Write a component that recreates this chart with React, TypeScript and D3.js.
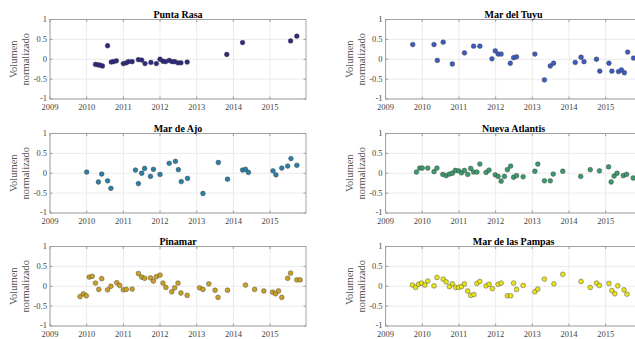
import * as d3 from "d3";

type Pt = [number, number];

const years = [2009, 2010, 2011, 2012, 2013, 2014, 2015];
const yTicks = [1, 0.5, 0, -0.5, -1];

const puntaRasa: Pt[] = [
  [2010.24, -0.13], [2010.31, -0.14], [2010.36, -0.15], [2010.43, -0.17], [2010.57, 0.34],
  [2010.67, -0.07], [2010.73, -0.06], [2010.81, -0.04], [2011.0, -0.11], [2011.08, -0.09],
  [2011.14, -0.06], [2011.24, -0.06], [2011.41, -0.01], [2011.5, -0.02], [2011.59, -0.11],
  [2011.75, -0.08], [2011.9, -0.11], [2012.0, 0.0], [2012.08, -0.05], [2012.15, -0.06],
  [2012.25, -0.03], [2012.33, -0.06], [2012.4, -0.06], [2012.49, -0.09], [2012.57, -0.09],
  [2012.74, -0.07], [2013.82, 0.12], [2014.25, 0.42], [2015.56, 0.46], [2015.73, 0.58],
];

const marDelTuyu: Pt[] = [
  [2009.74, 0.37], [2010.32, 0.37], [2010.41, -0.03], [2010.57, 0.43], [2010.82, -0.12],
  [2011.15, 0.16], [2011.4, 0.33], [2011.57, 0.33], [2011.9, 0.01], [2011.99, 0.21],
  [2012.07, 0.13], [2012.15, 0.13], [2012.4, -0.1], [2012.49, 0.04], [2012.57, 0.06],
  [2013.07, 0.13], [2013.33, -0.52], [2013.49, -0.17], [2013.58, -0.1], [2014.17, -0.08],
  [2014.33, 0.05], [2014.41, -0.06], [2014.75, 0.0], [2014.84, -0.3], [2015.09, -0.1],
  [2015.17, -0.3], [2015.35, -0.31], [2015.43, -0.27], [2015.51, -0.34], [2015.6, 0.18],
  [2015.76, 0.03],
];

const marDeAjo: Pt[] = [
  [2010.0, 0.03], [2010.32, -0.22], [2010.41, -0.02], [2010.57, -0.19], [2010.66, -0.38],
  [2011.33, 0.08], [2011.41, -0.26], [2011.5, 0.0], [2011.58, 0.12], [2011.74, -0.08],
  [2011.82, 0.1], [2012.0, -0.03], [2012.25, 0.25], [2012.42, 0.3], [2012.5, 0.09],
  [2012.58, -0.21], [2012.75, -0.13], [2013.17, -0.51], [2013.59, 0.27], [2013.84, -0.15],
  [2014.25, 0.08], [2014.33, 0.1], [2014.41, 0.02], [2015.08, 0.06], [2015.16, -0.04],
  [2015.32, 0.13], [2015.48, 0.18], [2015.57, 0.37], [2015.73, 0.2],
];

const nuevaAtlantis: Pt[] = [
  [2009.84, 0.03], [2009.93, 0.13], [2010.0, 0.13], [2010.15, 0.13], [2010.32, 0.04],
  [2010.4, 0.13], [2010.56, -0.03], [2010.65, -0.06], [2010.74, -0.02], [2010.82, 0.0],
  [2010.9, 0.07], [2010.99, 0.06], [2011.07, 0.01], [2011.15, 0.07], [2011.24, -0.03],
  [2011.32, 0.12], [2011.4, 0.03], [2011.49, 0.03], [2011.57, 0.23], [2011.74, 0.02],
  [2011.82, 0.08], [2011.99, -0.04], [2012.07, -0.08], [2012.15, -0.2], [2012.24, -0.08],
  [2012.32, 0.09], [2012.41, 0.18], [2012.49, -0.1], [2012.57, -0.06], [2012.75, -0.09],
  [2013.07, 0.05], [2013.15, 0.23], [2013.33, -0.19], [2013.49, -0.19], [2013.57, -0.02],
  [2013.83, 0.05], [2014.32, -0.08], [2014.58, 0.09], [2014.83, 0.06], [2015.08, 0.16],
  [2015.15, -0.22], [2015.23, -0.07], [2015.31, 0.0], [2015.48, -0.06], [2015.57, -0.03],
  [2015.75, -0.12],
];

const pinamar: Pt[] = [
  [2009.82, -0.26], [2009.91, -0.19], [2009.99, -0.24], [2010.07, 0.23], [2010.15, 0.25],
  [2010.24, 0.08], [2010.33, -0.08], [2010.41, 0.19], [2010.57, -0.09], [2010.66, 0.0],
  [2010.82, 0.09], [2010.9, 0.02], [2011.0, -0.09], [2011.08, -0.08], [2011.24, -0.07],
  [2011.41, 0.32], [2011.5, 0.23], [2011.58, 0.2], [2011.74, 0.21], [2011.82, 0.13],
  [2011.9, 0.24], [2012.0, 0.28], [2012.08, 0.08], [2012.16, -0.03], [2012.32, -0.14],
  [2012.4, -0.04], [2012.49, 0.08], [2012.57, -0.17], [2012.74, -0.23], [2013.08, -0.04],
  [2013.17, -0.08], [2013.33, 0.06], [2013.5, -0.1], [2013.58, -0.28], [2013.84, -0.1],
  [2014.33, 0.03], [2014.58, -0.08], [2014.83, -0.12], [2015.07, -0.15], [2015.15, -0.19],
  [2015.23, -0.12], [2015.32, -0.28], [2015.48, 0.2], [2015.56, 0.33], [2015.73, 0.16],
  [2015.82, 0.16],
];

const marDeLasPampas: Pt[] = [
  [2009.73, 0.03], [2009.82, -0.03], [2009.9, 0.05], [2009.98, 0.08], [2010.07, 0.03],
  [2010.15, 0.13], [2010.32, 0.01], [2010.4, 0.22], [2010.57, 0.18], [2010.65, 0.11],
  [2010.74, -0.01], [2010.82, 0.06], [2010.91, -0.03], [2010.99, -0.03], [2011.07, -0.01],
  [2011.15, 0.06], [2011.24, -0.12], [2011.32, -0.23], [2011.41, -0.21], [2011.49, 0.07],
  [2011.57, 0.12], [2011.74, 0.01], [2011.82, 0.05], [2011.91, -0.06], [2012.07, 0.05],
  [2012.15, 0.08], [2012.32, -0.24], [2012.41, -0.24], [2012.49, 0.08], [2012.57, -0.08],
  [2012.75, 0.02], [2013.07, -0.14], [2013.15, -0.07], [2013.33, 0.18], [2013.59, 0.06],
  [2013.83, 0.3], [2014.33, 0.12], [2014.58, -0.03], [2014.75, 0.08], [2014.83, 0.02],
  [2015.09, 0.07], [2015.17, -0.11], [2015.25, -0.19], [2015.33, 0.01], [2015.5, -0.09],
  [2015.58, -0.2],
];

const panels = [
  { title: "Punta Rasa", data: puntaRasa, color: "#2f2a80", col: 0, row: 0 },
  { title: "Mar del Tuyu", data: marDelTuyu, color: "#3d5cc2", col: 1, row: 0 },
  { title: "Mar de Ajo", data: marDeAjo, color: "#2b7fa6", col: 0, row: 1 },
  { title: "Nueva Atlantis", data: nuevaAtlantis, color: "#3b9a6c", col: 1, row: 1 },
  { title: "Pinamar", data: pinamar, color: "#c9a125", col: 0, row: 2 },
  { title: "Mar de las Pampas", data: marDeLasPampas, color: "#e8e21c", col: 1, row: 2 },
];

const colX = [50, 385.6];
const rowY = [19.5, 133.5, 246.5];
const plotW = 256;
const plotH = 79.5;
const font = "'Liberation Serif', 'Times New Roman', serif";

function Panel({ title, data, color, left, top }: any) {
  const x = d3.scaleLinear().domain([2009, 2015.98]).range([left, left + plotW]);
  const y = d3.scaleLinear().domain([-1, 1]).range([top + plotH, top]);
  const right = left + plotW;
  const bottom = top + plotH;
  const midY = (top + bottom) / 2;
  return (
    <g>
      <rect x={left} y={top} width={plotW} height={plotH} fill="#fff" />
      {years.map((yr) => (
        <line key={"gx" + yr} x1={x(yr)} x2={x(yr)} y1={top} y2={bottom} stroke="#e6e6e6" strokeWidth={0.8} />
      ))}
      {yTicks.map((t) => (
        <line key={"gy" + t} x1={left} x2={right} y1={y(t)} y2={y(t)} stroke="#e6e6e6" strokeWidth={0.8} />
      ))}
      {years.map((yr) => (
        <g key={"tx" + yr}>
          <line x1={x(yr)} x2={x(yr)} y1={bottom} y2={bottom - 2.5} stroke="#888" strokeWidth={0.8} />
          <line x1={x(yr)} x2={x(yr)} y1={top} y2={top + 2.5} stroke="#888" strokeWidth={0.8} />
          <text x={x(yr)} y={bottom + 10.5} textAnchor="middle" fontSize={8.5} fill="#444" fontFamily={font}>
            {yr}
          </text>
        </g>
      ))}
      {yTicks.map((t) => (
        <g key={"ty" + t}>
          <line x1={left} x2={left + 2.5} y1={y(t)} y2={y(t)} stroke="#888" strokeWidth={0.8} />
          <line x1={right} x2={right - 2.5} y1={y(t)} y2={y(t)} stroke="#888" strokeWidth={0.8} />
          <text x={left - 3} y={y(t) + (t === -1 ? 1.5 : 2.5)} textAnchor="end" fontSize={8.5} fill="#444" fontFamily={font}>
            {t}
          </text>
        </g>
      ))}
      <rect x={left} y={top} width={plotW} height={plotH} fill="none" stroke="#999" strokeWidth={0.9} />
      {data.map((d: Pt, i: number) => (
        <circle key={i} cx={x(d[0])} cy={y(d[1])} r={2.4} fill={color} stroke="#333" strokeWidth={0.4} />
      ))}
      <text x={(left + right) / 2} y={top - 2} textAnchor="middle" fontSize={10} fontWeight="bold" fill="#000" fontFamily={font}>
        {title}
      </text>
      <text transform={`translate(${left - 33},${midY}) rotate(-90)`} textAnchor="middle" fontSize={10.5} fill="#555" fontFamily={font}>
        Volumen
      </text>
      <text transform={`translate(${left - 21},${midY}) rotate(-90)`} textAnchor="middle" fontSize={10.5} fill="#555" fontFamily={font}>
        normalizado
      </text>
    </g>
  );
}

export default function App() {
  return (
    <svg
      width={635}
      height={339}
      style={{ position: "absolute", left: 0, top: 0, background: "#fff" }}
    >
      <rect width={635} height={339} fill="#fff" />
      {panels.map((p) => (
        <Panel key={p.title} {...p} left={colX[p.col]} top={rowY[p.row]} />
      ))}
    </svg>
  );
}
